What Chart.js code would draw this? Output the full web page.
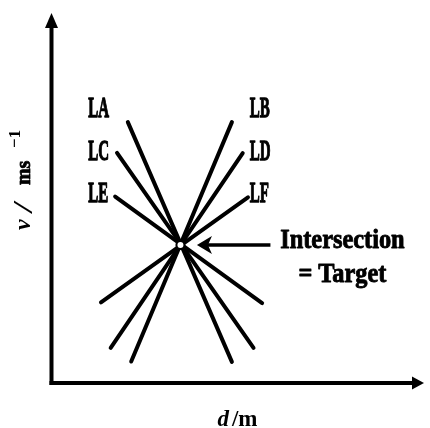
<!DOCTYPE html>
<html>
<head>
<meta charset="utf-8">
<script src="https://cdn.jsdelivr.net/npm/chart.js@4/dist/chart.umd.min.js"></script>
<style>
  html, body { margin: 0; padding: 0; background: #fff; }
  canvas { display: block; }
</style>
</head>
<body>
<canvas id="chart" width="430" height="428"></canvas>
<script>
// Six measurement lines, each given by its upper end and its lower end (axis units 0-100)
const lineNames  = ['LA', 'LB', 'LC', 'LD', 'LE', 'LF'];
const lineStartX = [20.6, 48.5, 17.7, 51.4, 17.2, 52.8];
const lineStartY = [70.5, 70.5, 62.2, 62.1, 50.4, 50.2];
const lineEndX   = [48.5, 21.5, 54.3, 16.0, 56.6, 13.4];
const lineEndY   = [5.7, 5.8, 9.5, 9.5, 21.6, 21.8];

// Common crossing point of all lines
const targetX = [34.7];
const targetY = [37.3];

// Texts
const xTitle = ['d', '/m'];
const yTitle = ['v', '/', 'ms', '\u22121'];
const noteLines = ['Intersection', '= Target'];

// Where each line name sits (axis units): left column / right column, three rows
const nameColumnX = { left: 10.0, right: 53.3 };
const nameRowY = [71.9, 60.3, 48.9];

const SERIF = '"Liberation Serif", "Times New Roman", serif';

function drawText(ctx, text, x, y, font, sx, align, weight) {
  ctx.save();
  ctx.font = font;
  ctx.textAlign = 'left';
  ctx.textBaseline = 'alphabetic';
  const w = ctx.measureText(text).width * sx;
  let x0 = x;
  if (align === 'center') x0 = x - w / 2;
  else if (align === 'right') x0 = x - w;
  ctx.translate(x0, y);
  ctx.scale(sx, 1);
  ctx.fillText(text, 0, 0);
  if (weight) {
    ctx.lineWidth = weight;
    ctx.lineJoin = 'round';
    ctx.strokeText(text, 0, 0);
  }
  ctx.restore();
  return w;
}

const lineDatasets = lineNames.map((name, i) => ({
  label: name,
  data: [
    { x: lineStartX[i], y: lineStartY[i] },
    { x: lineEndX[i], y: lineEndY[i] }
  ],
  showLine: true,
  borderColor: '#000',
  borderWidth: 4,
  borderCapStyle: 'round',
  pointRadius: 0,
  order: 1
}));

const targetDataset = {
  label: 'Target',
  data: targetX.map((x, i) => ({ x, y: targetY[i] })),
  showLine: false,
  pointRadius: 4,
  pointBackgroundColor: '#fff',
  pointBorderColor: '#000',
  pointBorderWidth: 2,
  order: 0
};

// Axes with arrow heads, line names, axis titles and the pointer note
const decorations = {
  id: 'decorations',
  afterDraw(chart) {
    const { ctx, chartArea: ca, scales } = chart;
    const xs = scales.x, ys = scales.y;
    ctx.save();
    ctx.fillStyle = '#000';
    ctx.strokeStyle = '#000';

    // axes
    const ax = ca.left + 0.5;
    const ay = ca.bottom;
    ctx.lineWidth = 4;
    ctx.lineCap = 'butt';
    ctx.beginPath();
    ctx.moveTo(ax, ay + 2);
    ctx.lineTo(ax, ca.top + 12);
    ctx.stroke();
    ctx.beginPath();
    ctx.moveTo(ax, ca.top);
    ctx.lineTo(ax - 6.5, ca.top + 15);
    ctx.lineTo(ax + 6.5, ca.top + 15);
    ctx.closePath();
    ctx.fill();
    ctx.beginPath();
    ctx.moveTo(ax - 2, ay);
    ctx.lineTo(ca.right - 10, ay);
    ctx.stroke();
    ctx.beginPath();
    ctx.moveTo(ca.right, ay);
    ctx.lineTo(ca.right - 12, ay - 6.5);
    ctx.lineTo(ca.right - 12, ay + 6.5);
    ctx.closePath();
    ctx.fill();

    // line names
    lineNames.forEach((name, i) => {
      const col = i % 2 === 0 ? 'left' : 'right';
      const row = Math.floor(i / 2);
      const x = xs.getPixelForValue(nameColumnX[col]);
      const y = ys.getPixelForValue(nameRowY[row]);
      drawText(ctx, name, x, y, 'bold 30px ' + SERIF, 0.5, 'left', 1.3);
    });

    // pointer to the crossing point
    const px = xs.getPixelForValue(targetX[0]);
    const py = ys.getPixelForValue(targetY[0]);
    const tip = px + 16.5;
    ctx.lineWidth = 3.5;
    ctx.beginPath();
    ctx.moveTo(tip + 10, py);
    ctx.lineTo(px + 90, py);
    ctx.stroke();
    ctx.beginPath();
    ctx.moveTo(tip, py);
    ctx.lineTo(tip + 15, py - 9);
    ctx.lineTo(tip + 11, py);
    ctx.lineTo(tip + 15, py + 9);
    ctx.closePath();
    ctx.fill();

    const noteX = px + 162;
    drawText(ctx, noteLines[0], noteX, py + 3, 'bold 28px ' + SERIF, 0.87, 'center', 0.9);
    drawText(ctx, noteLines[1], noteX, py + 37, 'bold 28px ' + SERIF, 0.87, 'center', 0.9);

    // x title: d/m
    const xt = (ca.left + ca.right) / 2;
    ctx.font = 'italic bold 23px ' + SERIF;
    const wd = ctx.measureText(xTitle[0]).width;
    ctx.font = 'bold 23px ' + SERIF;
    const wm = ctx.measureText(xTitle[1]).width;
    const startX = xt - (wd + wm + 3) / 2;
    drawText(ctx, xTitle[0], startX, ca.bottom + 43, 'italic bold 23px ' + SERIF, 1, 'left');
    drawText(ctx, xTitle[1], startX + wd + 3, ca.bottom + 43, 'bold 23px ' + SERIF, 1, 'left');

    // y title: v / ms^-1, rotated, read bottom to top
    ctx.save();
    ctx.translate(ca.left - 21, ca.bottom - 153);
    ctx.rotate(-Math.PI / 2);
    drawText(ctx, yTitle[0], 0, 0, 'italic bold 24px ' + SERIF, 1, 'left');
    drawText(ctx, yTitle[1], 18, 2, 'italic bold 27px ' + SERIF, 1.2, 'left');
    drawText(ctx, yTitle[2], 45, 0, 'bold 21px ' + SERIF, 0.95, 'left', 0.8);
    drawText(ctx, yTitle[3], 82, -10, 'bold 17px ' + SERIF, 1, 'left');
    ctx.restore();

    ctx.restore();
  }
};

new Chart(document.getElementById('chart'), {
  type: 'scatter',
  data: { datasets: [targetDataset, ...lineDatasets] },
  options: {
    responsive: false,
    animation: false,
    layout: { padding: { left: 51, right: 0, top: 13, bottom: 45 } },
    scales: {
      x: { type: 'linear', min: 0, max: 100, display: false },
      y: { type: 'linear', min: 0, max: 100, display: false }
    },
    plugins: {
      legend: { display: false },
      tooltip: { enabled: false }
    }
  },
  plugins: [decorations]
});
</script>
</body>
</html>
